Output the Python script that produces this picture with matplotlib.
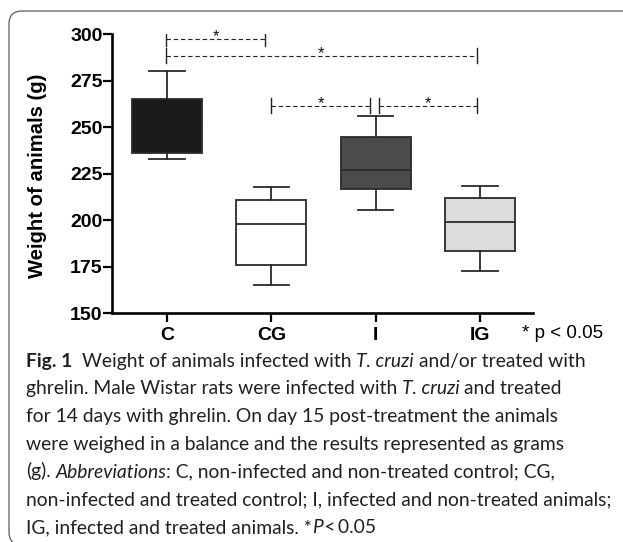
import matplotlib
matplotlib.use("Agg")
import matplotlib.pyplot as plt
from matplotlib.patches import FancyBboxPatch
from matplotlib.transforms import IdentityTransform

# box plot summary (grams)
groups = ["C", "CG", "I", "IG"]
whisker_low = [233, 165, 205.5, 173]
quart_low = [236, 176, 217, 183.5]
medians = [250, 198, 227, 199]
quart_high = [265, 211, 245, 212]
whisker_high = [280, 218, 256, 218.5]
box_colours = ["#1b1b1b", "#ffffff", "#4b4b4b", "#dcdcdc"]

# significance brackets (start group, end group, height)
sig_start = [0.99, 0.99, 2.0, 3.03]
sig_end = [1.94, 3.97, 2.95, 3.97]
sig_height = [297.5, 288.4, 261.5, 261.5]

yticks = [150, 175, 200, 225, 250, 275, 300]

caption = [
    [("Fig. 1", "bold"), ("  Weight of animals infected with ", "normal"), ("T. cruzi", "italic"),
     (" and/or treated with", "normal")],
    [("ghrelin. Male Wistar rats were infected with ", "normal"), ("T. cruzi", "italic"),
     (" and treated", "normal")],
    [("for 14 days with ghrelin. On day 15 post-treatment the animals", "normal")],
    [("were weighed in a balance and the results represented as grams", "normal")],
    [("(g). ", "normal"), ("Abbreviations", "italic"),
     (": C, non-infected and non-treated control; CG,", "normal")],
    [("non-infected and treated control; I, infected and non-treated animals;", "normal")],
    [("IG, infected and treated animals. *", "normal"), ("P", "italic"), ("\u2009<\u20090.05", "normal")],
]

W, H = 623, 542
fig = plt.figure(figsize=(W / 100, H / 100), dpi=100)
ax = fig.add_axes([112.3 / W, 1 - 313.3 / H, 420.4 / W, 279.0 / H])

stats = []
for i in range(len(groups)):
    stats.append(dict(label=groups[i], whislo=whisker_low[i], q1=quart_low[i], med=medians[i],
                      q3=quart_high[i], whishi=whisker_high[i]))

edge = "#2a2a2a"
bp = ax.bxp(stats, positions=range(1, len(groups) + 1), widths=0.67, capwidths=0.34,
            patch_artist=True, showfliers=False,
            boxprops=dict(edgecolor=edge, linewidth=1.3),
            whiskerprops=dict(color=edge, linewidth=1.3),
            capprops=dict(color=edge, linewidth=1.3),
            medianprops=dict(color=edge, linewidth=1.3))
for patch, med, c in zip(bp["boxes"], bp["medians"], box_colours):
    patch.set_facecolor(c)
# median of the black box disappears into the fill
bp["medians"][0].set_color(box_colours[0])

for x0, x1, y in zip(sig_start, sig_end, sig_height):
    ax.plot([x0, x1], [y, y], color="#222222", lw=0.8, ls=(0, (4, 2.5)))
    ax.plot([x0, x0], [y - 4, y + 4], color="#222222", lw=1.0)
    ax.plot([x1, x1], [y - 4, y + 4], color="#222222", lw=1.0)
    ax.text((x0 + x1) / 2, y - 1.4, "*", ha="center", va="baseline", fontsize=12,
            family="Liberation Sans", color="#111111")

ax.set_xlim(0.475, 4.505)
ax.set_ylim(150, 300)
ax.set_yticks(yticks)
ax.set_xticks(range(1, len(groups) + 1))
ax.set_xticklabels(groups)
for s in ["top", "right"]:
    ax.spines[s].set_visible(False)
for s in ["left", "bottom"]:
    ax.spines[s].set_linewidth(1.9)
ax.tick_params(axis="y", direction="out", length=6.5, width=1.6, pad=0.5)
ax.tick_params(axis="x", direction="out", length=6.2, width=1.6, pad=4)
for lab in ax.get_xticklabels() + ax.get_yticklabels():
    lab.set_family("Liberation Sans")
    lab.set_fontweight("bold")
    lab.set_fontsize(14)

fig.text(37.2 / W, 1 - 176 / H, "Weight of animals (g)", rotation=90, ha="center", va="center",
         family="Liberation Sans", fontweight="bold", fontsize=14.6)
fig.text(521.7 / W, 1 - 338.3 / H, "* p < 0.05", ha="left", va="baseline",
         family="Liberation Sans", fontsize=13.5)

# rounded frame around figure + caption
frame = FancyBboxPatch((9, -3), 640, H - 11 + 3, boxstyle="round,pad=0,rounding_size=13",
                       transform=IdentityTransform(), facecolor="none", edgecolor="#5a5a5a", lw=0.9)
fig.add_artist(frame)

# caption, built piece by piece so bold / italic parts sit in line
renderer = fig.canvas.get_renderer()
cap_font = "Lato"
cap_size = 13.9
cap_col = "#231f20"


def text_width(s, style):
    t = fig.text(0, 0, s, family=cap_font, fontsize=cap_size,
                 fontweight="bold" if style == "bold" else "normal",
                 fontstyle="italic" if style == "italic" else "normal")
    w = t.get_window_extent(renderer).width
    t.remove()
    return w


space_w = text_width("a a", "normal") - text_width("aa", "normal")

base0 = 366.7
step = 27.7
for k, line in enumerate(caption):
    x = 25.7
    y = H - (base0 + k * step)
    for txt, style in line:
        lead = len(txt) - len(txt.lstrip(" "))
        trail = len(txt) - len(txt.rstrip(" "))
        x += lead * space_w
        core = txt.strip(" ")
        t = fig.text(x / W, y / H, core, family=cap_font, fontsize=cap_size, color=cap_col,
                     fontweight="bold" if style == "bold" else "normal",
                     fontstyle="italic" if style == "italic" else "normal",
                     ha="left", va="baseline")
        x = t.get_window_extent(renderer).x1 + trail * space_w

fig.savefig("out.png", dpi=100)
